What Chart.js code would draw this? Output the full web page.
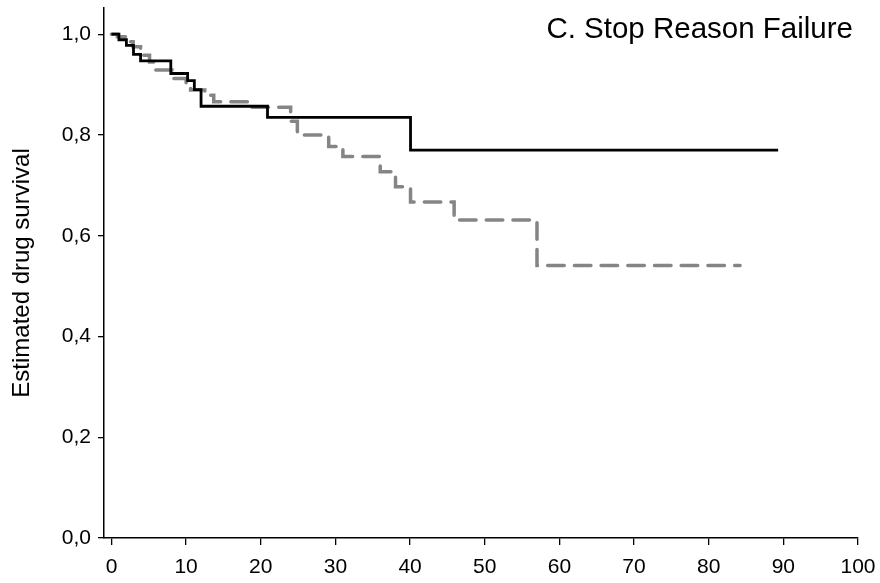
<!DOCTYPE html>
<html>
<head>
<meta charset="utf-8">
<script src="https://cdn.jsdelivr.net/npm/chart.js@4"></script>
<style>
html,body{margin:0;padding:0;background:#fff;}
#wrap{width:880px;height:583px;}
</style>
</head>
<body>
<div id="wrap"><canvas id="c" width="880" height="583"></canvas></div>
<script>
const chartTitle = "C. Stop Reason Failure";
const yAxisLabel = "Estimated drug survival";
const xTickValues = [0, 10, 20, 30, 40, 50, 60, 70, 80, 90, 100];
const yTickValues = [0, 0.2, 0.4, 0.6, 0.8, 1.0];

// Solid black curve: event times (months) and survival after each step
const solidTimes    = [0, 1, 2, 2.95, 3.9, 7.95, 10.2, 11.1, 12, 20.9, 40.06, 89.3];
const solidSurvival = [1.0, 0.989, 0.978, 0.960, 0.947, 0.922, 0.908, 0.890, 0.857, 0.835, 0.770, 0.770];

// Dashed grey curve
const dashedTimes    = [0, 0.8, 1.9, 2.9, 3.9, 5.1, 5.85, 8.1, 10.0, 10.6, 12.5, 13.7, 18.6, 24.0, 24.9, 29.1, 31.0, 36.0, 38.05, 40.06, 45.9, 57.0, 84.2];
const dashedSurvival = [1.0, 0.995, 0.985, 0.975, 0.958, 0.945, 0.929, 0.912, 0.903, 0.889, 0.879, 0.866, 0.855, 0.827, 0.800, 0.777, 0.757, 0.727, 0.697, 0.667, 0.631, 0.541, 0.541];

const FONT = '"Liberation Sans", Arial, Helvetica, sans-serif';

function toPoints(xs, ys) { return xs.map((x, i) => ({ x: x, y: ys[i] })); }

const titlePlugin = {
  id: 'cornerTitle',
  afterDraw(chart) {
    const ctx = chart.ctx;
    const a = chart.chartArea;
    ctx.save();
    ctx.font = '29.5px ' + FONT;
    ctx.fillStyle = '#000';
    ctx.textAlign = 'right';
    ctx.textBaseline = 'middle';
    ctx.fillText(chartTitle, a.right - 5, a.top + 22);
    ctx.restore();
  }
};

new Chart(document.getElementById('c'), {
  type: 'line',
  data: {
    datasets: [
      {
        data: toPoints(solidTimes, solidSurvival),
        borderColor: '#000',
        borderWidth: 2.8,
        stepped: 'before',
        pointRadius: 0,
        fill: false
      },
      {
        data: toPoints(dashedTimes, dashedSurvival),
        borderColor: '#858585',
        borderWidth: 3.5,
        borderDash: [16.5, 10.2],
        borderCapStyle: 'round',
        stepped: 'before',
        pointRadius: 0,
        fill: false
      }
    ]
  },
  options: {
    responsive: false,
    animation: false,
    devicePixelRatio: 1,
    layout: { padding: { top: 8, right: 22, left: 0, bottom: 0 } },
    plugins: { legend: { display: false }, tooltip: { enabled: false } },
    scales: {
      x: {
        type: 'linear',
        min: -1,
        max: 100,
        afterBuildTicks: s => { s.ticks = xTickValues.map(v => ({ value: v })); },
        afterFit: s => { s.height = 45; s.paddingLeft = 0; s.paddingRight = 0; },
        grid: { display: true, drawOnChartArea: false, drawTicks: true, tickLength: 7, color: '#000', lineWidth: 1.3 },
        border: { display: true, color: '#000', width: 1.5 },
        ticks: { color: '#000', font: { family: FONT, size: 21 }, padding: 10, maxRotation: 0, autoSkip: false }
      },
      y: {
        type: 'linear',
        min: 0,
        max: 1.052,
        afterBuildTicks: s => { s.ticks = yTickValues.map(v => ({ value: v })); },
        afterFit: s => { s.width = 104; s.paddingTop = 0; s.paddingBottom = 0; },
        grid: { display: true, drawOnChartArea: false, drawTicks: true, tickLength: 6, color: '#000', lineWidth: 1.3 },
        border: { display: true, color: '#000', width: 1.5 },
        ticks: {
          color: '#000',
          font: { family: FONT, size: 21 },
          padding: 7,
          autoSkip: false,
          callback: v => v.toFixed(1).replace('.', ',')
        },
        title: {
          display: true,
          text: yAxisLabel,
          color: '#000',
          font: { family: FONT, size: 24 },
          padding: { top: 8, bottom: 0 }
        }
      }
    }
  },
  plugins: [titlePlugin]
});
</script>
</body>
</html>
